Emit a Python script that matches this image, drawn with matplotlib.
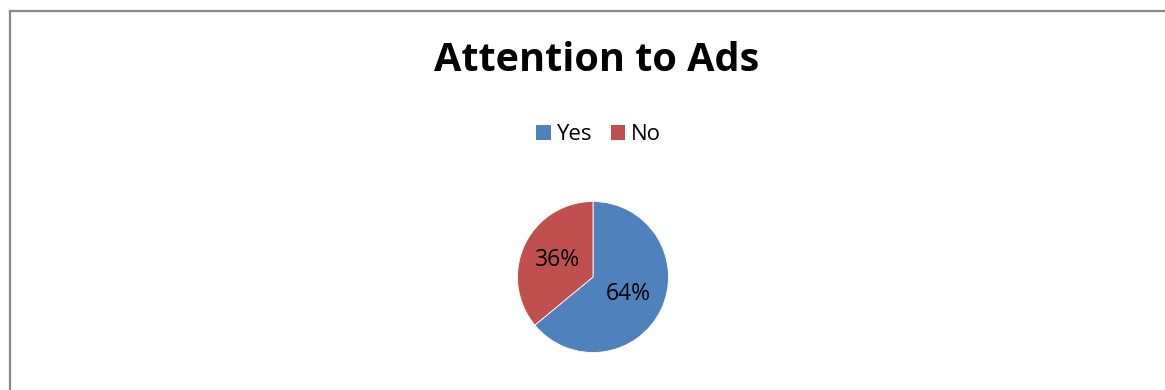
import matplotlib
matplotlib.use("Agg")
import matplotlib.pyplot as plt
from matplotlib.patches import Patch
from matplotlib.lines import Line2D

categories = ["Yes", "No"]
shares = [64, 36]
colors = ["#4F81BD", "#C0504D"]
title = "Attention to Ads"

W, H, DPI = 1165, 390, 100
plt.rcParams["font.family"] = ["Open Sans", "DejaVu Sans"]

fig = plt.figure(figsize=(W / DPI, H / DPI), dpi=DPI, facecolor="white")

# chart-area frame (top and left edges visible)
frame_kw = dict(color="#898989", linewidth=1.6, transform=fig.transFigure)
fig.add_artist(Line2D([10 / W, 1.0], [1 - 10.5 / H, 1 - 10.5 / H], **frame_kw))
fig.add_artist(Line2D([10 / W, 10 / W], [0.0, 1 - 10.5 / H], **frame_kw))

fig.text(596.5 / W, 1 - 71 / H, title, ha="center", va="baseline",
         fontsize=28.5, fontweight="bold", color="black")

# pie plot area
cx, cy, r = 593, 277, 75.5
ax = fig.add_axes([(cx - r) / W, (H - cy - r) / H, 2 * r / W, 2 * r / H])
wedges, texts, autotexts = ax.pie(
    shares, colors=colors, startangle=90, counterclock=False, radius=1.0,
    autopct="%d%%", pctdistance=0.52,
    wedgeprops=dict(edgecolor="white", linewidth=0.6),
    textprops=dict(fontsize=16.5, color="black"),
)
ax.set_xlim(-1.0, 1.0)
ax.set_ylim(-1.0, 1.0)
ax.set_aspect("equal")
ax.axis("off")

handles = [Patch(facecolor=c, edgecolor="none") for c in colors]
fig.legend(handles, categories, loc="center", bbox_to_anchor=(598.5 / W, 1 - 135 / H),
           ncol=2, frameon=False, fontsize=16, handlelength=0.66, handleheight=0.66,
           handletextpad=0.25, columnspacing=0.85, borderpad=0, borderaxespad=0)

fig.savefig("out.png", dpi=DPI, facecolor="white")
